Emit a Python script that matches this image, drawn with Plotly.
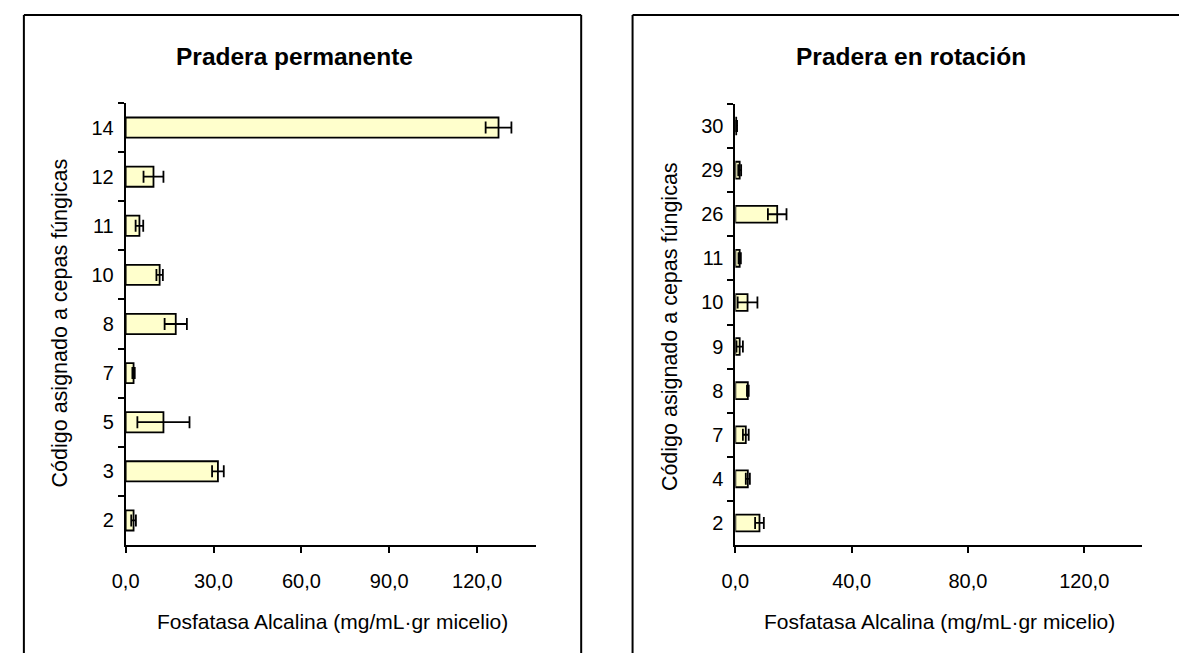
import plotly.graph_objects as go

# Pradera permanente
perm_codes = ["2", "3", "5", "7", "8", "10", "11", "12", "14"]
perm_values = [2.7, 31.5, 12.9, 2.7, 17.1, 11.6, 4.7, 9.5, 127.3]
perm_errors = [0.8, 2.0, 8.9, 0.4, 3.8, 1.1, 1.3, 3.4, 4.4]

# Pradera en rotación
rot_codes = ["2", "4", "7", "8", "9", "10", "11", "26", "29", "30"]
rot_values = [8.3, 4.3, 3.6, 4.3, 1.5, 4.2, 1.5, 14.4, 1.5, 0.3]
rot_errors = [1.5, 0.7, 1.0, 0.3, 1.1, 3.4, 0.4, 3.2, 0.5, 0.3]

W, H = 1179, 653
FONT = "Liberation Sans, Arial, sans-serif"
FILL = "#FFFFCC"


def px(x):
    return x / W


def py(y):
    return 1 - y / H


fig = go.Figure()

fig.add_trace(go.Bar(
    y=perm_codes, x=perm_values, orientation="h", width=0.41,
    marker=dict(color=FILL, line=dict(color="black", width=1.8)),
    error_x=dict(type="data", array=perm_errors, color="black", thickness=1.8, width=6),
    xaxis="x", yaxis="y", showlegend=False,
))
fig.add_trace(go.Bar(
    y=rot_codes, x=rot_values, orientation="h", width=0.38,
    marker=dict(color=FILL, line=dict(color="black", width=1.8)),
    error_x=dict(type="data", array=rot_errors, color="black", thickness=1.8, width=6),
    xaxis="x2", yaxis="y2", showlegend=False,
))

axis_common = dict(
    showline=True, linecolor="black", linewidth=1.8, showgrid=False, zeroline=False,
    ticks="outside", ticklen=6, tickwidth=1.8, tickcolor="black",
    tickfont=dict(family=FONT, size=20, color="black"),
)

fig.update_layout(
    width=W, height=H, margin=dict(l=0, r=0, t=0, b=0),
    paper_bgcolor="white", plot_bgcolor="white",
    separators=",.",
    xaxis=dict(domain=[px(113), px(528)], range=[0, 140], tickvals=[0, 30, 60, 90, 120],
               tickformat=".1f", anchor="y", ticklabelstandoff=11, **axis_common),
    yaxis=dict(domain=[py(545), py(103)], type="category", categoryorder="array",
               categoryarray=perm_codes, range=[-0.5, len(perm_codes) - 0.5],
               tickson="boundaries", anchor="x", ticklabelstandoff=6, **axis_common),
    xaxis2=dict(domain=[px(730), px(1142)], range=[0, 140], tickvals=[0, 40, 80, 120],
                tickformat=".1f", anchor="y2", ticklabelstandoff=11, **axis_common),
    yaxis2=dict(domain=[py(545), py(104)], type="category", categoryorder="array",
                categoryarray=rot_codes, range=[-0.5, len(rot_codes) - 0.5],
                tickson="boundaries", anchor="x2", ticklabelstandoff=6, **axis_common),
)

# Panel titles and axis titles
texts = [
    ("<b>Pradera permanente</b>", 284, 57, 24.5, 0),
    ("<b>Pradera en rotación</b>", 908, 57, 24.5, 0),
    ("Fosfatasa Alcalina (mg/mL·gr micelio)", 322, 621, 21, 0),
    ("Fosfatasa Alcalina (mg/mL·gr micelio)", 937, 621, 21, 0),
    ("Código asignado a cepas fúngicas", 47, 323, 21.5, -90),
    ("Código asignado a cepas fúngicas", 664, 327, 21.5, -90),
]
for t, x, y, s, ang in texts:
    fig.add_annotation(text=t, x=px(x), y=py(y), xref="paper", yref="paper",
                       showarrow=False, xanchor="center", yanchor="middle",
                       textangle=ang, font=dict(family=FONT, size=s, color="black"))

# Chart-area frames
frame = dict(color="black", width=2)
for x0, y0, x1, y1 in [
    (10, 15, 574, 15), (10, 15, 10, 653), (574, 15, 574, 653),
    (626, 15, 1179, 15), (626, 15, 626, 653),
]:
    fig.add_shape(type="line", xref="paper", yref="paper",
                  x0=px(x0), y0=py(y0), x1=px(x1), y1=py(y1), line=frame)

fig.write_html("out.html")
